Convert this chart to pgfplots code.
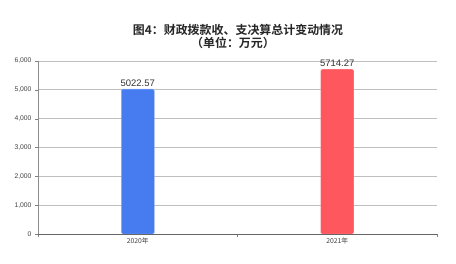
\documentclass[border=0pt]{standalone}
\usepackage{fontspec}
\setmainfont{Liberation Sans}
\newfontfamily\cjk{Noto Sans CJK SC}[BoldFont={Noto Sans CJK SC Bold}]
\usepackage{pgfplots}
\pgfplotsset{compat=1.18}
\definecolor{barblue}{HTML}{477CF0}
\definecolor{barred}{HTML}{FF575E}
\definecolor{gridc}{HTML}{BFBFBF}
\begin{document}
\begin{tikzpicture}
\useasboundingbox (0,0) rectangle (456bp,264bp);
\begin{axis}[
  at={(38bp,30bp)}, anchor=south west,
  scale only axis, width=399bp, height=173bp,
  xmin=-0.5, xmax=1.5, ymin=0, ymax=6000,
  ytick={0,1000,...,6000},
  yticklabel style={font=\fontsize{6.8}{7}\selectfont, text=black!75},
  /pgf/number format/assume math mode=true,
  scaled y ticks=false,
  xtick={-0.5,0.5,1.5}, xticklabels={},
  extra x ticks={0,1},
  extra x tick labels={{\cjk 2020年},{\cjk 2021年}},
  extra x tick style={major tick length=0pt, grid=none,
     ticklabel style={font=\fontsize{6.8}{7}\selectfont, text=black!75}},
  ymajorgrids, grid style={gridc, line width=0.7pt},
  axis x line*=bottom, axis y line*=left,
  x axis line style={black!60, -}, y axis line style={black!45, -},
  tick style={black!50}, major tick length=3bp,
  tick align=outside,
  bar width=33bp, ybar,
  nodes near coords,
  every node near coord/.append style={font=\fontsize{9.5}{10}\selectfont, text=black!80, yshift=-1bp},
  point meta=explicit symbolic,
]
\addplot[fill=barblue, draw=barblue!60, rounded corners=1.5bp, bar shift=0pt] coordinates {(0,5022.57) [5022.57]};
\addplot[fill=barred, draw=barred!60, rounded corners=1.5bp, bar shift=0pt] coordinates {(1,5714.27) [5714.27]};
\end{axis}
\node[font=\cjk\bfseries\fontsize{12}{13}\selectfont, text=black!85] at (238bp,234bp) {图4：财政拨款收、支决算总计变动情况};
\node[font=\cjk\bfseries\fontsize{12}{13}\selectfont, text=black!85] at (233bp,221bp) {（单位：万元）};
\end{tikzpicture}
\end{document}
